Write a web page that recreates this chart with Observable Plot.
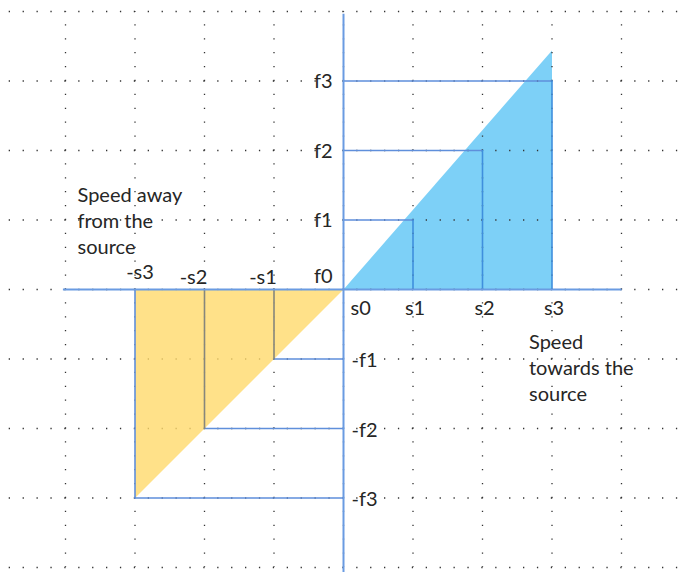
<!DOCTYPE html>
<html><head><meta charset="utf-8">
<script src="https://cdn.jsdelivr.net/npm/d3@7"></script>
<script src="https://cdn.jsdelivr.net/npm/@observablehq/plot@0.6"></script>
<style>body{margin:0;background:#fff}</style>
</head><body><div id="chart"></div>
<script>
// ---- data ----
const gridValues = [-4, -3, -2, -1, 0, 1, 2, 3, 4];
const steps = [1, 2, 3];
const sLabels = ["s1", "s2", "s3"];
const negSLabels = ["-s1", "-s2", "-s3"];
const fLabels = ["f1", "f2", "f3"];
const negFLabels = ["-f1", "-f2", "-f3"];
const xOriginLabel = "s0";
const yOriginLabel = "f0";
const towardsTip = {x: 3, y: 3.44};   // apex of the "towards" triangle
const awayTip = {x: -3, y: -3};       // apex of the "away" triangle
const xAxisExtent = [-4.03, 4.01];
const yAxisExtent = [-4.3, 3.96];
const awayText = "Speed away\nfrom the\nsource";
const towardsText = "Speed\ntowards the\nsource";

// ---- derived tables ----
const towardsTri = [{x: 0, y: 0}, towardsTip, {x: towardsTip.x, y: 0}];
const awayTri = [{x: 0, y: 0}, awayTip, {x: awayTip.x, y: 0}];
const posH = steps.flatMap(k => [{k, x: 0, y: k}, {k, x: k, y: k}]);
const posV = steps.flatMap(k => [{k, x: k, y: k}, {k, x: k, y: 0}]);
const negH = steps.flatMap(k => [{k, x: -k, y: -k}, {k, x: 0, y: -k}]);
const negVIn = steps.slice(0, -1).flatMap(k => [{k, x: -k, y: 0}, {k, x: -k, y: -k}]);
const negVEdge = steps.slice(-1).flatMap(k => [{k, x: -k, y: 0}, {k, x: -k, y: -k}]);

const W = 686, H = 572, U = 69.5, OX = 343, OY = 289;
const FONT = "Lato, 'Open Sans', sans-serif";
const FS = 20;
const TXT = "#262626";
const BLUE = "#5F8FDB";

const chart = Plot.plot({
  width: W, height: H,
  marginLeft: 0, marginRight: 0, marginTop: 0, marginBottom: 0,
  x: {domain: [-OX / U, (W - OX) / U], axis: null},
  y: {domain: [-(H - OY) / U, OY / U], axis: null},
  style: {fontFamily: FONT, background: "#fff"},
  marks: [
    Plot.line(towardsTri, {x: "x", y: "y", fill: "#7DD0F7", stroke: "none"}),
    // dotted grid
    Plot.ruleY(gridValues, {stroke: "#333", strokeWidth: 1.3, strokeDasharray: "1.3,12.6", strokeDashoffset: 5.2}),
    Plot.ruleX(gridValues, {y1: -4, y2: 4, stroke: "#333", strokeWidth: 1.3, strokeDasharray: "1.3,12.6", strokeDashoffset: 0.65}),
    // away triangle
    Plot.line(awayTri, {x: "x", y: "y", fill: "#FFD96B", fillOpacity: 0.8, stroke: "none"}),
    // step lines
    Plot.line(posH, {x: "x", y: "y", z: "k", stroke: BLUE, strokeWidth: 1.6}),
    Plot.line(posV, {x: "x", y: "y", z: "k", stroke: "#3F8FDD", strokeWidth: 1.6}),
    Plot.line(negH, {x: "x", y: "y", z: "k", stroke: BLUE, strokeWidth: 1.6}),
    Plot.line(negVIn, {x: "x", y: "y", z: "k", stroke: "#86867C", strokeWidth: 1.6}),
    Plot.line(negVEdge, {x: "x", y: "y", z: "k", stroke: BLUE, strokeWidth: 1.6}),
    // axes
    Plot.ruleY([0], {x1: xAxisExtent[0], x2: xAxisExtent[1], stroke: "#6A9BE2", strokeWidth: 2}),
    Plot.ruleX([0], {y1: yAxisExtent[0], y2: yAxisExtent[1], stroke: "#6A9BE2", strokeWidth: 2}),
    // labels
    Plot.text(steps, {x: 0, y: d => d, text: (d, i) => fLabels[i], textAnchor: "end", dx: -11, dy: 1, fontSize: FS, fill: TXT}),
    Plot.text([yOriginLabel], {x: 0, y: 0, text: d => d, textAnchor: "end", dx: -11, dy: -13, fontSize: FS, fill: TXT}),
    Plot.text(steps, {x: d => d, y: 0, text: (d, i) => sLabels[i], dx: 2, dy: 19, fontSize: FS, fill: TXT}),
    Plot.text([xOriginLabel], {x: 0, y: 0, text: d => d, textAnchor: "start", dx: 7, dy: 19, fontSize: FS, fill: TXT}),
    Plot.text(steps.slice(0, 2), {x: d => -d, y: 0, text: (d, i) => negSLabels[i], dx: -11, dy: -12, fontSize: FS, fill: TXT}),
    Plot.text(steps.slice(2), {x: d => -d, y: 0, text: d => negSLabels[d - 1], dx: 5, dy: -17, fontSize: FS, fill: TXT}),
    Plot.text(steps, {x: 0, y: d => -d, text: (d, i) => negFLabels[i], textAnchor: "start", dx: 8, dy: 2, fontSize: FS, fill: TXT}),
    Plot.text([awayText], {x: -4, y: 1, text: d => d, textAnchor: "start", lineAnchor: "middle", lineHeight: 1.3, dx: 12, dy: 0, fontSize: FS, fill: TXT}),
    Plot.text([towardsText], {x: 3, y: -1, text: d => d, textAnchor: "start", lineAnchor: "middle", lineHeight: 1.3, dx: -23, dy: 8, fontSize: FS, fill: TXT})
  ]
});
document.getElementById("chart").appendChild(chart);
</script>
</body></html>
